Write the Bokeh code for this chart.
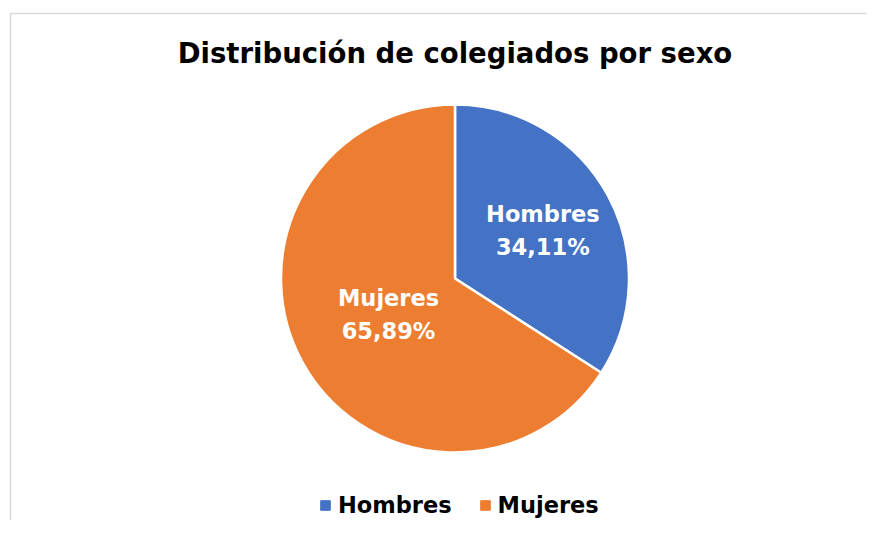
import math
from bokeh.plotting import figure
from bokeh.models import Range1d, ColumnDataSource, Label, Legend, LegendItem
from bokeh.core.properties import value
from bokeh.embed import file_html
from bokeh.resources import INLINE

title = "Distribución de colegiados por sexo"
categories = ["Hombres", "Mujeres"]
shares = [34.11, 65.89]
colors = ["#4472C4", "#ED7D31"]
label_dist = [0.575, 0.435]   # label placement as fraction of radius

FONT = "DejaVu Sans"
W, H = 867, 520
# data coordinates: x = page x, y = 536 - page y
p = figure(width=W, height=H, output_backend="svg", toolbar_location=None,
           x_range=Range1d(0, W), y_range=Range1d(536 - H, 536),
           min_border=0, outline_line_color=None)
p.axis.visible = False
p.grid.visible = False

# chart frame (top & left edges visible)
p.segment(x0=[10, 10], y0=[523, 523], x1=[W, 10], y1=[523, 536 - H],
          line_color="#d9d9d9", line_width=1.5)

cx, cy, r = 454.5, 258, 174
total = sum(shares)
starts, ends, lx, ly, txt = [], [], [], [], []
a = math.pi / 2
for s, d in zip(shares, label_dist):
    e = a - 2 * math.pi * s / total
    starts.append(e)
    ends.append(a)
    mid = (a + e) / 2
    lx.append(cx + d * r * math.cos(mid))
    ly.append(cy + d * r * math.sin(mid))
    a = e
for c, s in zip(categories, shares):
    txt.append(c + "\n" + ("%.2f" % s).replace(".", ",") + "%")

src = ColumnDataSource(dict(cat=categories, start=starts, end=ends, color=colors,
                            lx=lx, ly=ly, txt=txt))
wedges = p.wedge(x=cx, y=cy, radius=r, start_angle="start", end_angle="end",
                 fill_color="color", line_color="white", line_width=2.5, source=src)
p.text(x="lx", y="ly", text="txt", source=src, text_color="white",
       text_font=value(FONT), text_font_style="bold", text_font_size="22.5px",
       text_align="center", text_baseline="middle", text_line_height=1.25)

p.add_layout(Label(x=454.5, y=536 - 52, text=title, text_font=FONT,
                   text_font_style="bold", text_font_size="27.5px",
                   text_align="center", text_baseline="middle", text_color="black"))

# legend with square markers
items = []
for c, col in zip(categories, colors):
    r_ = p.scatter(x=[cx], y=[cy], marker="square", size=10, fill_color=col,
                   line_color=col, visible=False)
    items.append(LegendItem(label=c, renderers=[r_]))
leg = Legend(items=items, orientation="horizontal", location=(313, 2),
             label_text_font=FONT, label_text_font_style="bold",
             label_text_font_size="22.5px", label_text_color="black",
             glyph_width=24, glyph_height=24, label_standoff=1, spacing=21,
             padding=2, border_line_color=None, background_fill_alpha=0,
             click_policy="none")
p.add_layout(leg, "center")

open("out.html", "w").write(file_html(p, INLINE))
